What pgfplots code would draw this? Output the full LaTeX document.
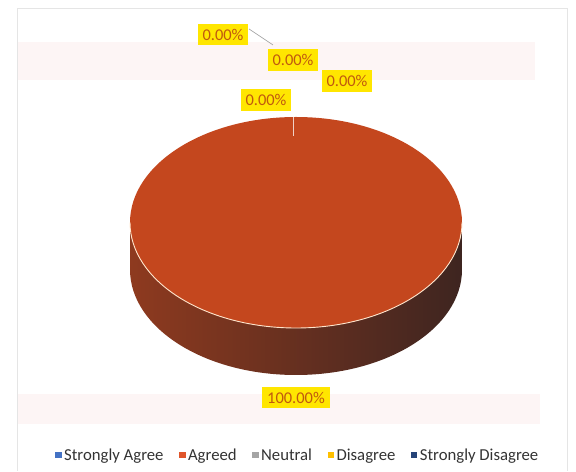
\documentclass[border=0pt]{standalone}
\usepackage{pgfplots}
\pgfplotsset{compat=1.18}
\usepackage{pgfplotstable}
\usepackage{fontspec}
\setmainfont{Carlito}

\definecolor{sagree}{HTML}{4472C4}
\definecolor{agreed}{HTML}{E0552B}
\definecolor{neutral}{HTML}{A5A5A5}
\definecolor{disagree}{HTML}{FFC000}
\definecolor{sdisagree}{HTML}{264478}
\definecolor{pietop}{HTML}{C4471E}
\definecolor{sideL}{HTML}{8E3A1F}
\definecolor{sideM}{HTML}{6E2D19}
\definecolor{sideR}{HTML}{3E2520}
\definecolor{lblbg}{HTML}{FFE600}
\definecolor{lbltxt}{HTML}{C0590F}
\definecolor{bleed}{HTML}{FDF5F5}

\tikzset{lbl/.style={fill=lblbg, text=lbltxt, inner xsep=5bp, inner ysep=5bp,
    font=\fontsize{16.5}{18}\selectfont}}

% share of responses, percent
\pgfplotstableread[col sep=comma]{
cat,pct
Strongly Agree,0
Agreed,100
Neutral,0
Disagree,0
Strongly Disagree,0
}\likert

\begin{document}
\begin{tikzpicture}
\pgfplotstablegetelem{1}{pct}\of\likert
\pgfmathsetmacro{\agrang}{3.6*\pgfplotsretval}% 360 -> whole disc
\begin{axis}[
    scale only axis,
    width=576bp, height=472bp,
    xmin=0, xmax=576, ymin=0, ymax=472,
    hide axis,
    clip=false,
    legend style={at={(298/576,17/472)}, anchor=center, draw=none, fill=none,
        legend columns=-1, font=\fontsize{16.8}{18}\selectfont,
        text=black!80,
        /tikz/every even column/.append style={column sep=13bp},
        nodes={inner xsep=2.5bp}},
    legend image code/.code={\fill[draw=none] (0bp,-3bp) rectangle (6.5bp,3.5bp);},
]
% whole canvas
\path (axis cs:0,0) rectangle (axis cs:576,472);
% page frame and faint bleed-through bands
\fill[bleed] (axis cs:17,392) rectangle (axis cs:535,430);
\fill[bleed] (axis cs:17,48) rectangle (axis cs:540,78);
\draw[gray!20, line width=1bp] (axis cs:17,1) -- (axis cs:17,463) -- (axis cs:567,463) -- (axis cs:567,1);

% side of the 3-D pie
\shade[left color=sideL, middle color=sideM, right color=sideR]
    (axis cs:130,249.5) -- (axis cs:130,202.5)
    arc[start angle=180, end angle=360, x radius=166, y radius=105.5]
    -- (axis cs:462,249.5)
    arc[start angle=0, end angle=-180, x radius=166, y radius=105.5] -- cycle;
% top face: Agreed slice covers \agrang degrees
\fill[pietop] (axis cs:296,249.5) ellipse [x radius=166, y radius=105.5];
\draw[orange!20!white, line width=0.9bp] (axis cs:130,249.5)
    arc[start angle=180, end angle=360, x radius=166, y radius=105.5];
\draw[white!75!pietop, line width=0.8bp] (axis cs:293,355) -- (axis cs:293,336);

% data labels
\draw[gray!70, line width=0.7bp] (axis cs:249,443) -- (axis cs:273,427);
\node[lbl] at (axis cs:223,437.5) {0.00\%};
\node[lbl] at (axis cs:293,412) {0.00\%};
\node[lbl] at (axis cs:347,391) {0.00\%};
\node[lbl] at (axis cs:266,372) {0.00\%};
\node[lbl] at (axis cs:296,74.5) {100.00\%};

\addlegendimage{fill=sagree, draw=none}
\addlegendentry{Strongly Agree}
\addlegendimage{fill=agreed, draw=none}
\addlegendentry{Agreed}
\addlegendimage{fill=neutral, draw=none}
\addlegendentry{Neutral}
\addlegendimage{fill=disagree, draw=none}
\addlegendentry{Disagree}
\addlegendimage{fill=sdisagree, draw=none}
\addlegendentry{Strongly Disagree}
\end{axis}
\end{tikzpicture}
\end{document}
